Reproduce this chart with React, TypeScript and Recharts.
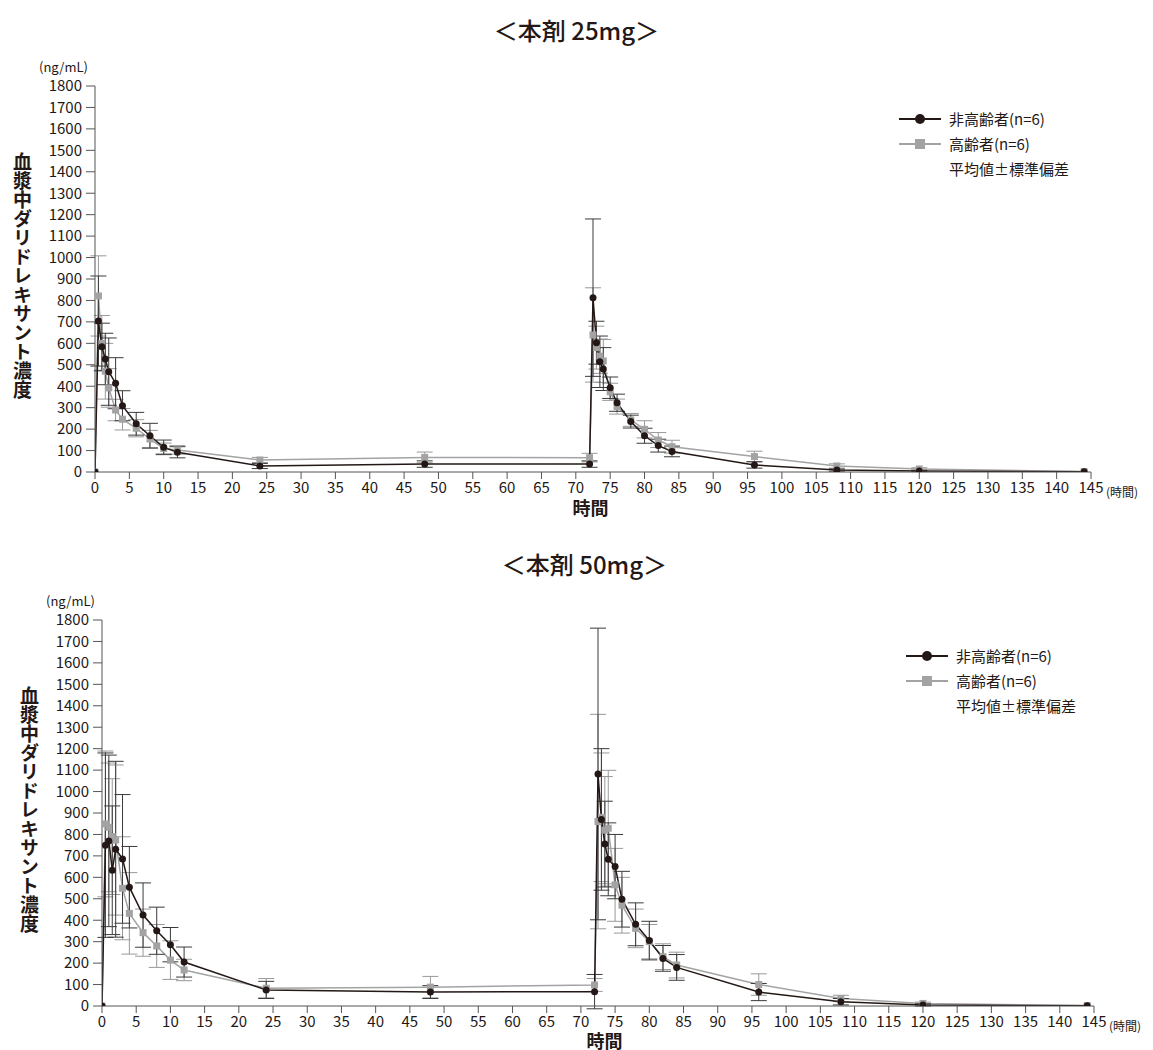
import React from "react";
import { LineChart, Line, XAxis, YAxis, ErrorBar } from "recharts";

const FONT = '"Noto Sans CJK JP", "Noto Sans", sans-serif';
const BLACK = "#231815";
const GRAY = "#a3a3a3";

// sampling times (h)
const times = [0, 0.5, 1, 1.5, 2, 3, 4, 6, 8, 10, 12, 24, 48, 72, 72.5, 73, 73.5, 74, 75, 76, 78, 80, 82, 84, 96, 108, 120, 144];

// 25mg
const young25 = [0, 704, 584, 527, 468, 414, 309, 225, 169, 115, 92, 28, 37, 37, 813, 603, 514, 480, 393, 323, 235, 169, 123, 96, 33, 9, 5, 1];
const young25Sd = [0, 210, 110, 120, 157, 119, 70, 53, 58, 34, 26, 12, 15, 15, 367, 100, 120, 100, 50, 40, 30, 35, 30, 25, 15, 5, 3, 0];
const elderly25 = [0, 821, 600, 470, 392, 289, 246, 204, 154, 110, 103, 56, 68, 67, 639, 580, 540, 518, 374, 305, 243, 199, 149, 118, 72, 28, 14, 2];
const elderly25Sd = [0, 187, 130, 130, 90, 50, 50, 40, 40, 25, 20, 12, 25, 20, 220, 100, 80, 100, 40, 35, 30, 40, 35, 30, 25, 10, 6, 0];

// 50mg
const young50 = [0, 750, 770, 633, 731, 686, 554, 424, 351, 286, 205, 75, 65, 67, 1082, 870, 755, 684, 650, 498, 381, 305, 222, 180, 65, 20, 5, 1];
const young50Sd = [0, 430, 400, 300, 410, 300, 190, 150, 110, 80, 70, 40, 30, 80, 680, 330, 200, 170, 150, 130, 100, 90, 60, 60, 40, 15, 5, 0];
const elderly50 = [0, 849, 833, 790, 774, 549, 432, 342, 280, 214, 168, 83, 88, 98, 860, 880, 820, 829, 565, 470, 362, 300, 230, 191, 100, 35, 12, 2];
const elderly50Sd = [0, 340, 300, 270, 350, 240, 190, 110, 100, 90, 50, 45, 50, 30, 500, 300, 250, 270, 170, 130, 90, 80, 60, 60, 50, 15, 6, 0];

const xTicks = [0, 5, 10, 15, 20, 25, 30, 35, 40, 45, 50, 55, 60, 65, 70, 75, 80, 85, 90, 95, 100, 105, 110, 115, 120, 125, 130, 135, 140, 145];
const yTicks = [0, 100, 200, 300, 400, 500, 600, 700, 800, 900, 1000, 1100, 1200, 1300, 1400, 1500, 1600, 1700, 1800];

const legendItems = ["非高齢者(n=6)", "高齢者(n=6)"];
const legendNote = "平均値±標準偏差";

const build = (a: number[], aSd: number[], b: number[], bSd: number[]) =>
  times.map((t, i) => ({ t, young: a[i], youngSd: aSd[i], elderly: b[i], elderlySd: bSd[i] }));

const CircleDot = (p: any) => {
  if (p.cx == null || p.cy == null) return <g key={p.index} />;
  return <circle key={p.index} cx={p.cx} cy={p.cy} r={3.5} fill={BLACK} />;
};
const SquareDot = (p: any) => {
  if (p.cx == null || p.cy == null) return <g key={p.index} />;
  return <rect key={p.index} x={p.cx - 3.5} y={p.cy - 3.5} width={7} height={7} fill={GRAY} />;
};

const LegendBox = () => (
  <div style={{ fontFamily: FONT, fontSize: 15, color: BLACK, lineHeight: "25px" }}>
    {legendItems.map((txt, i) => (
      <div key={txt} style={{ display: "flex", alignItems: "center" }}>
        <svg width={48} height={14}>
          <line x1={2} y1={7} x2={44} y2={7} stroke={i === 0 ? BLACK : GRAY} strokeWidth={2} />
          {i === 0 ? (
            <circle cx={23} cy={7} r={5} fill={BLACK} />
          ) : (
            <rect x={18} y={2} width={10} height={10} fill={GRAY} />
          )}
        </svg>
        <span style={{ marginLeft: 4 }}>{txt}</span>
      </div>
    ))}
    <div style={{ marginLeft: 52 }}>{legendNote}</div>
  </div>
);

type PanelProps = {
  top: number;
  height: number;
  axisX: number;
  rightMargin: number;
  plotTop: number;
  plotBottom: number;
  xLabelGap: number;
  title: string;
  data: any[];
  legendLeft: number;
  legendTop: number;
};

function Panel({ top, height, axisX, rightMargin, plotTop, plotBottom, xLabelGap, title, data, legendLeft, legendTop }: PanelProps) {
  const tickStyle = { fill: BLACK, fontSize: 15, fontFamily: FONT };
  const xAxisH = 30;
  return (
    <div style={{ position: "absolute", left: 0, top, width: 1153, height }}>
      <div style={{ position: "absolute", left: 0, width: 1153, top: plotTop - 74, textAlign: "center", fontFamily: FONT, fontSize: 24, fontWeight: 500, color: BLACK, paddingLeft: 2 * (axisX - 95) - 6 }}>
        {title}
      </div>
      <div style={{ position: "absolute", left: axisX - 56, top: plotTop - 29, fontFamily: FONT, fontSize: 13, color: BLACK }}>(ng/mL)</div>
      <div
        style={{
          position: "absolute",
          left: axisX - 86,
          top: plotTop + 66,
          writingMode: "vertical-rl",
          fontFamily: FONT,
          fontSize: 19,
          fontWeight: 600,
          color: BLACK,
        }}
      >
        血漿中ダリドレキサント濃度
      </div>
      <div style={{ position: "absolute", left: legendLeft, top: legendTop }}>
        <LegendBox />
      </div>
      <LineChart
        width={1153}
        height={height}
        data={data}
        margin={{ top: plotTop, right: rightMargin, left: 0, bottom: height - plotBottom - xAxisH }}
      >
        <XAxis
          dataKey="t"
          type="number"
          domain={[0, 145]}
          ticks={xTicks}
          interval={0}
          height={xAxisH}
          tickSize={7}
          tickMargin={3}
          tick={tickStyle}
          stroke="#555"
          allowDataOverflow
        />
        <YAxis
          type="number"
          domain={[0, 1800]}
          ticks={yTicks}
          interval={0}
          width={axisX}
          tickSize={9}
          tickMargin={4}
          tick={tickStyle}
          stroke="#555"
          allowDataOverflow
        />
        <Line
          dataKey="elderly"
          type="linear"
          stroke={GRAY}
          strokeWidth={1.5}
          dot={SquareDot}
          activeDot={false}
          isAnimationActive={false}
        >
          <ErrorBar dataKey="elderlySd" width={8} stroke="#999" strokeWidth={1} direction="y" />
        </Line>
        <Line
          dataKey="young"
          type="linear"
          stroke={BLACK}
          strokeWidth={1.5}
          dot={CircleDot}
          activeDot={false}
          isAnimationActive={false}
        >
          <ErrorBar dataKey="youngSd" width={8} stroke="#3a3a3a" strokeWidth={1} direction="y" />
        </Line>
      </LineChart>
      <div style={{ position: "absolute", left: 0, width: 1153, top: plotBottom + xLabelGap, textAlign: "center", paddingLeft: 2 * (axisX - 95) + 14, fontFamily: FONT, fontSize: 18, fontWeight: 700, color: BLACK, lineHeight: "18px" }}>
        時間
      </div>
      <div style={{ position: "absolute", left: 1153 - rightMargin + 15, top: plotBottom + 11, fontFamily: FONT, fontSize: 12, color: BLACK }}>(時間)</div>
    </div>
  );
}

export default function App() {
  const data25 = build(young25, young25Sd, elderly25, elderly25Sd);
  const data50 = build(young50, young50Sd, elderly50, elderly50Sd);
  return (
    <div style={{ position: "absolute", left: 0, top: 0, width: 1153, height: 1050, background: "#fff", overflow: "hidden" }}>
      <Panel
        top={0}
        height={535}
        axisX={95}
        rightMargin={62}
        plotTop={86}
        plotBottom={472}
        xLabelGap={26}
        title="＜本剤 25mg＞"
        data={data25}
        legendLeft={897}
        legendTop={106}
      />
      <Panel
        top={535}
        height={515}
        axisX={102}
        rightMargin={59}
        plotTop={85}
        plotBottom={471}
        xLabelGap={25}
        title="＜本剤 50mg＞"
        data={data50}
        legendLeft={904}
        legendTop={108}
      />
    </div>
  );
}
